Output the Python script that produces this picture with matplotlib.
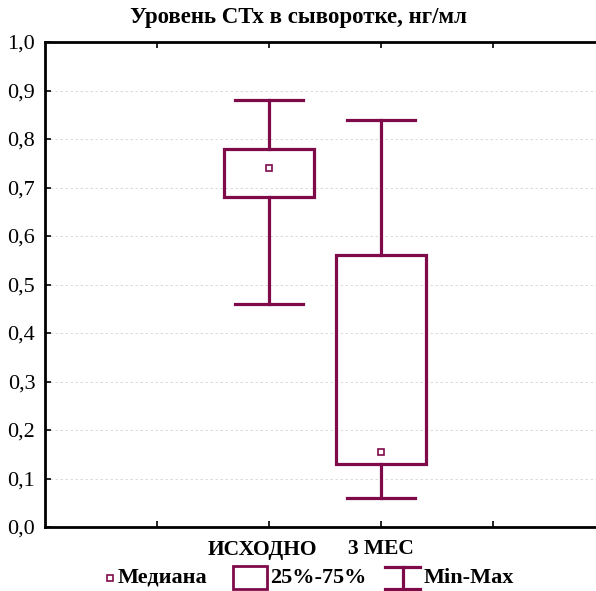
import matplotlib.pyplot as plt
from matplotlib.lines import Line2D
from matplotlib.patches import Rectangle
from matplotlib.transforms import ScaledTranslation

# data
groups = ['ИСХОДНО', '3 МЕС']
positions = [2, 3]
medians = [0.74, 0.155]
q25 = [0.68, 0.13]
q75 = [0.78, 0.56]
mins = [0.46, 0.06]
maxs = [0.88, 0.84]
legend_labels = ['Медиана', '25%-75%', 'Min-Max']

col = '#7f0a4a'
plt.rcParams['font.family'] = ['Liberation Serif', 'DejaVu Serif']

W, H = 596, 591
fig = plt.figure(figsize=(W / 100, H / 100), dpi=100)
ax = fig.add_axes([45 / W, 1 - 527 / H, 560 / W, 485 / H])

box_w = 0.8
cap_w = 0.6
for p, med, lo, hi, mn, mx in zip(positions, medians, q25, q75, mins, maxs):
    ax.add_patch(Rectangle((p - box_w / 2, lo), box_w, hi - lo, fill=False,
                           edgecolor=col, lw=2.3, zorder=3))
    ax.plot([p, p], [hi, mx], color=col, lw=2.3, zorder=3)
    ax.plot([p, p], [mn, lo], color=col, lw=2.3, zorder=3)
    ax.plot([p - cap_w / 2, p + cap_w / 2], [mx, mx], color=col, lw=2.3, zorder=3)
    ax.plot([p - cap_w / 2, p + cap_w / 2], [mn, mn], color=col, lw=2.3, zorder=3)
    ax.plot(p, med, 's', ms=5, mfc='white', mec=col, mew=1.2, zorder=4)

ax.set_xlim(0, 5)
ax.set_ylim(0, 1.0)
ax.set_xticks([1, 2, 3, 4])
ax.set_xticklabels(['', groups[0], groups[1], ''], fontweight='bold', fontsize=15.5)
ax.set_yticks([i / 10 for i in range(11)])
ax.set_yticklabels([f'{i / 10:.1f}'.replace('.', ',') for i in range(11)], fontsize=16)
ax.tick_params(axis='both', direction='in', length=4, width=1.2, top=True, pad=7)
ax.tick_params(axis='x', pad=9)
ax.grid(axis='y', color='#d4d4d4', ls=(0, (3, 3)), lw=0.6)
for s in ax.spines.values():
    s.set_linewidth(2)

# first group label sits a little left of its tick in the original
lab = ax.get_xticklabels()[1]
lab.set_transform(lab.get_transform() + ScaledTranslation(-7 / 100, 0, fig.dpi_scale_trans))

fig.text(0.5, 1 - 17 / H, 'Уровень СТх в сыворотке, нг/мл', ha='center', va='center',
         fontweight='bold', fontsize=16.5)

# legend drawn in figure pixels
def fx(x):
    return x / W


def fy(y):
    return 1 - y / H


ly = 578
fig.add_artist(Line2D([fx(110)], [fy(ly)], marker='s', ls='none', ms=5, mfc='white',
                      mec=col, mew=1.2, transform=fig.transFigure))
fig.text(fx(118), fy(ly), legend_labels[0], ha='left', va='center', fontweight='bold', fontsize=16)

fig.add_artist(Rectangle((fx(233), fy(589)), fx(34), 23 / H, fill=False, edgecolor=col,
                         lw=2, transform=fig.transFigure))
fig.text(fx(270), fy(ly), legend_labels[1], ha='left', va='center', fontweight='bold', fontsize=16)

for xs, ys in [([385, 420], [567, 567]), ([385, 420], [589, 589]), ([402.5, 402.5], [567, 589])]:
    fig.add_artist(Line2D([fx(v) for v in xs], [fy(v) for v in ys], color=col, lw=2.3,
                          transform=fig.transFigure))
fig.text(fx(424), fy(ly), legend_labels[2], ha='left', va='center', fontweight='bold', fontsize=16)

fig.savefig('out.png', dpi=100)
